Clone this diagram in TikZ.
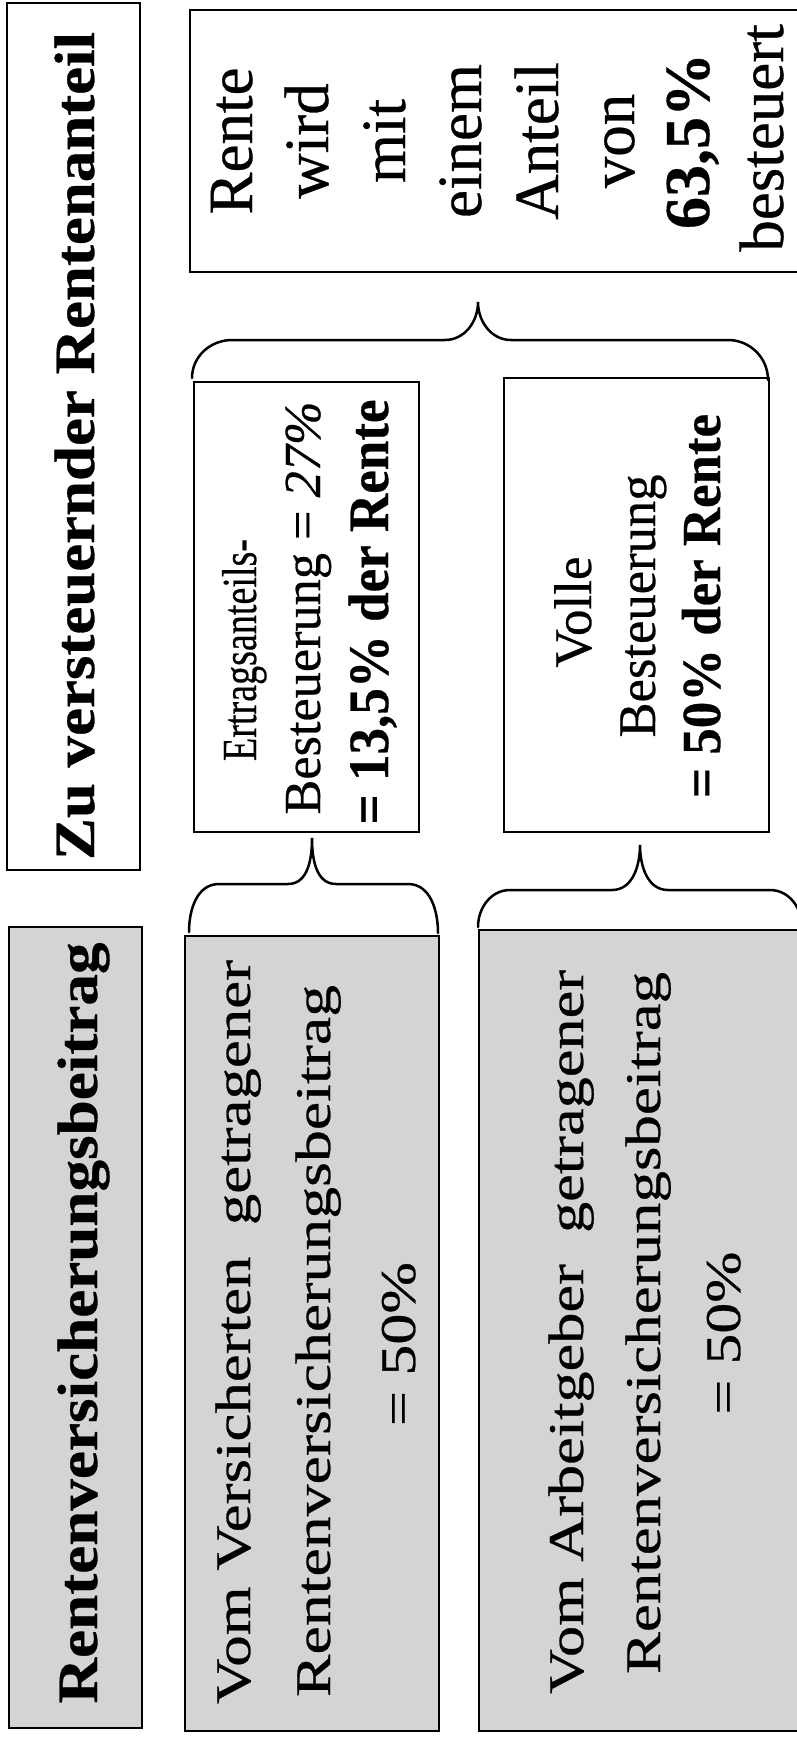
\documentclass[tikz,border=0pt]{standalone}
\usepackage{fontspec}
\setmainfont{Liberation Serif}[FakeBold=0.5]
\usepackage{graphicx}
\usetikzlibrary{calc}
\newcommand{\fitw}[2]{\resizebox{#1pt}{\height}{#2}}
\tikzset{
  box/.style={draw=black, line width=2.5pt, inner sep=0pt, fill=white},
  graybox/.style={box, fill=black!17},
  txt/.style={rotate=90, anchor=base, inner sep=0pt},
  bracestyle/.style={draw=black, line width=2.5pt, line cap=round},
}
\begin{document}
\begin{tikzpicture}[x=1pt,y=1pt]
\useasboundingbox (0,0) rectangle (796,-1739);
% boxes
\node[box, minimum width=133pt, minimum height=867pt] (hd1) at (73.5,-436.5) {};
\node[graybox, minimum width=133pt, minimum height=801pt] (hd2) at (75.5,-1327.5) {};
\node[box, minimum width=615pt, minimum height=262pt] (rente) at (497.5,-141) {};
\node[box, minimum width=225pt, minimum height=450pt] (ert) at (306.5,-607) {};
\node[box, minimum width=265pt, minimum height=454pt] (volle) at (636.5,-605) {};
\node[graybox, minimum width=254pt, minimum height=795pt] (vv) at (312,-1333.5) {};
\node[graybox, minimum width=326pt, minimum height=801pt] (ag) at (642,-1330.5) {};
% header texts
\node[txt, font=\fontsize{57}{68}\selectfont\bfseries] (thdA) at (94,-446) {\fitw{828}{Zu versteuernder Rentenanteil}};
\node[txt, font=\fontsize{57}{68}\selectfont\bfseries] (thdB) at (97,-1323) {\fitw{761}{Rentenversicherungsbeitrag}};
% Rente box
\node[txt, font=\fontsize{63}{76}\selectfont] (rA) at (252,-141) {Rente};
\node[txt, font=\fontsize{63}{76}\selectfont] (rB) at (328,-141) {wird};
\node[txt, font=\fontsize{63}{76}\selectfont] (rC) at (405,-141) {mit};
\node[txt, font=\fontsize{63}{76}\selectfont] (rD) at (481,-141) {einem};
\node[txt, font=\fontsize{63}{76}\selectfont] (rE) at (558,-141) {Anteil};
\node[txt, font=\fontsize{63}{76}\selectfont] (rF) at (634,-141) {von};
\node[txt, font=\fontsize{64}{76}\selectfont\bfseries] (rG) at (709,-141) {63,5\%};
\node[txt, font=\fontsize{63}{76}\selectfont] (rH) at (783,-138) {besteuert};
% Ertragsanteil box
\node[txt, font=\fontsize{49}{58}\selectfont] (eA) at (256,-650) {\fitw{222}{Ertragsanteils-}};
\node[txt, font=\fontsize{52}{64}\selectfont] (eB) at (320,-608) {\fitw{413}{Besteuerung = \textit{27\%}}};
\node[txt, font=\fontsize{57}{68}\selectfont\bfseries] (eC) at (388,-612) {\fitw{425}{= 13,5\% der Rente}};
% Volle box
\node[txt, font=\fontsize{53}{64}\selectfont] (vA) at (591,-612) {Volle};
\node[txt, font=\fontsize{53}{64}\selectfont] (vB) at (655,-606) {\fitw{263}{Besteuerung}};
\node[txt, font=\fontsize{55}{66}\selectfont\bfseries] (vC) at (720,-606) {\fitw{384}{= 50\% der Rente}};
% Vom Versicherten box
\node[txt, font=\fontsize{50}{60}\selectfont] (vvA) at (250,-1332) {\fitw{744}{Vom Versicherten\ \ getragener}};
\node[txt, font=\fontsize{50}{60}\selectfont] (vvB) at (330,-1341) {\fitw{712}{Rentenversicherungsbeitrag}};
\node[txt, font=\fontsize{50}{60}\selectfont] (vvC) at (415,-1344) {\fitw{164}{= 50\%}};
% Vom Arbeitgeber box
\node[txt, font=\fontsize{50}{60}\selectfont] (agA) at (583,-1332) {\fitw{724}{Vom Arbeitgeber\ \ getragener}};
\node[txt, font=\fontsize{50}{60}\selectfont] (agB) at (660,-1323) {\fitw{702}{Rentenversicherungsbeitrag}};
\node[txt, font=\fontsize{50}{60}\selectfont] (agC) at (740,-1333) {\fitw{163}{= 50\%}};
% braces
\coordinate (b1l) at (192,-378);
\coordinate (b1t) at (478,-302);
\coordinate (b1r) at (768,-380);
\draw[bracestyle] (b1l) to[out=90,in=180] (232,-340) -- (445,-340)
  to[out=0,in=-90] (b1t) to[out=-90,in=180] (511,-340) -- (728,-340)
  to[out=0,in=90] (b1r);
\coordinate (b2l) at (189,-932);
\coordinate (b2t) at (312,-838);
\coordinate (b2r) at (438,-933);
\draw[bracestyle] (b2l) to[out=90,in=180] (219,-884) -- (288,-884)
  to[out=0,in=-90] (b2t) to[out=-90,in=180] (336,-884) -- (408,-884)
  to[out=0,in=90] (b2r);
\coordinate (b3l) at (478,-927);
\coordinate (b3t) at (640,-845);
\coordinate (b3r) at (802,-927);
\draw[bracestyle] (b3l) to[out=90,in=180] (510,-890) -- (612,-890)
  to[out=0,in=-90] (b3t) to[out=-90,in=180] (668,-890) -- (770,-890)
  to[out=0,in=90] (b3r);
\end{tikzpicture}
\end{document}
